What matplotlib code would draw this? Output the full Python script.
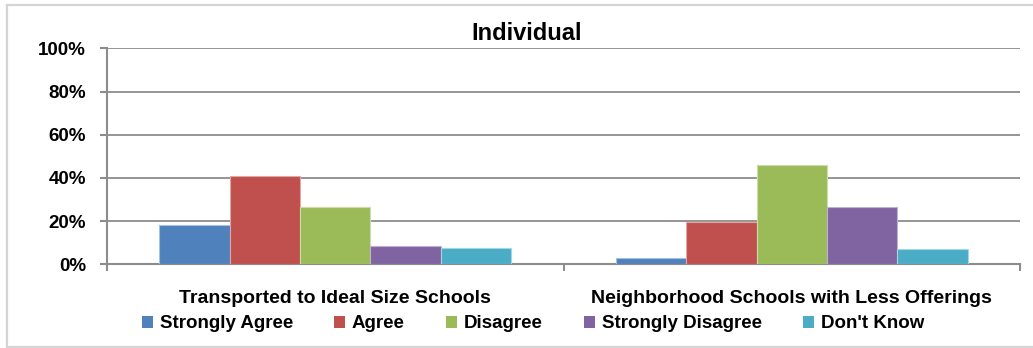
import matplotlib
matplotlib.use("Agg")
import matplotlib.pyplot as plt
from matplotlib.lines import Line2D
from matplotlib.patches import Patch
from matplotlib.ticker import FixedLocator, PercentFormatter

plt.rcParams['font.family'] = ['Liberation Sans', 'DejaVu Sans']

categories = ["Transported to Ideal Size Schools", "Neighborhood Schools with Less Offerings"]
responses = ["Strongly Agree", "Agree", "Disagree", "Strongly Disagree", "Don't Know"]
strongly_agree = [18.1, 2.9]
agree = [40.9, 19.6]
disagree = [26.4, 45.8]
strongly_disagree = [8.3, 26.4]
dont_know = [7.7, 7.1]
y_ticks = [0, 20, 40, 60, 80, 100]

series = [strongly_agree, agree, disagree, strongly_disagree, dont_know]
colors = ["#4F81BD", "#C0504D", "#9BBB59", "#8064A2", "#4BACC6"]
edges = ["#a7c0de", "#dfa7a6", "#cddcac", "#bfb1d0", "#a5d5e2"]

W, H = 1033, 348
fig = plt.figure(figsize=(W / 100, H / 100), dpi=100)
ax = fig.add_axes([107 / W, 1 - 264.3 / H, (1020 - 107) / W, (264.3 - 48.3) / H])

grid_c = "#8c8c8c"
bar_w = 0.154
x = range(len(categories))
for i, (vals, c, ec) in enumerate(zip(series, colors, edges)):
    pos = [xi + (i - 2) * bar_w for xi in x]
    ax.bar(pos, vals, width=bar_w, color=c, edgecolor=ec, linewidth=0.8, zorder=3)

ax.set_xlim(-0.5, len(categories) - 0.5)
ax.set_ylim(0, 100)
ax.yaxis.set_major_locator(FixedLocator(y_ticks))
ax.yaxis.set_major_formatter(PercentFormatter(decimals=0))
ax.grid(axis='y', color=grid_c, linewidth=1.3, zorder=0)
ax.set_axisbelow(True)

for s in ["top", "right"]:
    ax.spines[s].set_visible(False)
for s in ["left", "bottom"]:
    ax.spines[s].set_color(grid_c)
    ax.spines[s].set_linewidth(1.5)

ax.set_xticks(list(x))
ax.set_xticklabels(categories, fontsize=14, fontweight='bold')
ax.tick_params(axis='x', which='major', length=0, pad=18.5)
ax.set_xticks([-0.5, 0.5, 1.5], minor=True)
ax.tick_params(axis='x', which='minor', length=5, width=1.5, color=grid_c)
ax.tick_params(axis='y', length=5, width=1.5, color=grid_c, pad=10)
for lab in ax.get_yticklabels():
    lab.set_fontsize(13.5)
    lab.set_fontweight('bold')

fig.text(527 / W, 1 - 34 / H, "Individual", ha='center', va='center',
         fontsize=17, fontweight='bold')

handles = [Patch(facecolor=c, edgecolor='none') for c in colors]
fig.legend(handles, responses, loc='center', bbox_to_anchor=(533 / W, 1 - 324 / H),
           ncol=5, frameon=False, prop={'size': 13.5, 'weight': 'bold'},
           handlelength=0.6, handleheight=0.6, handletextpad=0.35,
           columnspacing=2.2, borderpad=0)

# chart-area frame: left, top and bottom edges, running off the right side
frame_c = "#d4d4d4"
left, top, bottom = 7 / W, 1 - 5 / H, 1.5 / H
for xs, ys in [([left, left], [bottom, top]), ([left, 1], [top, top]), ([left, 1], [bottom, bottom])]:
    fig.add_artist(Line2D(xs, ys, transform=fig.transFigure, color=frame_c, linewidth=1.6))

fig.savefig("out.png", dpi=100)
